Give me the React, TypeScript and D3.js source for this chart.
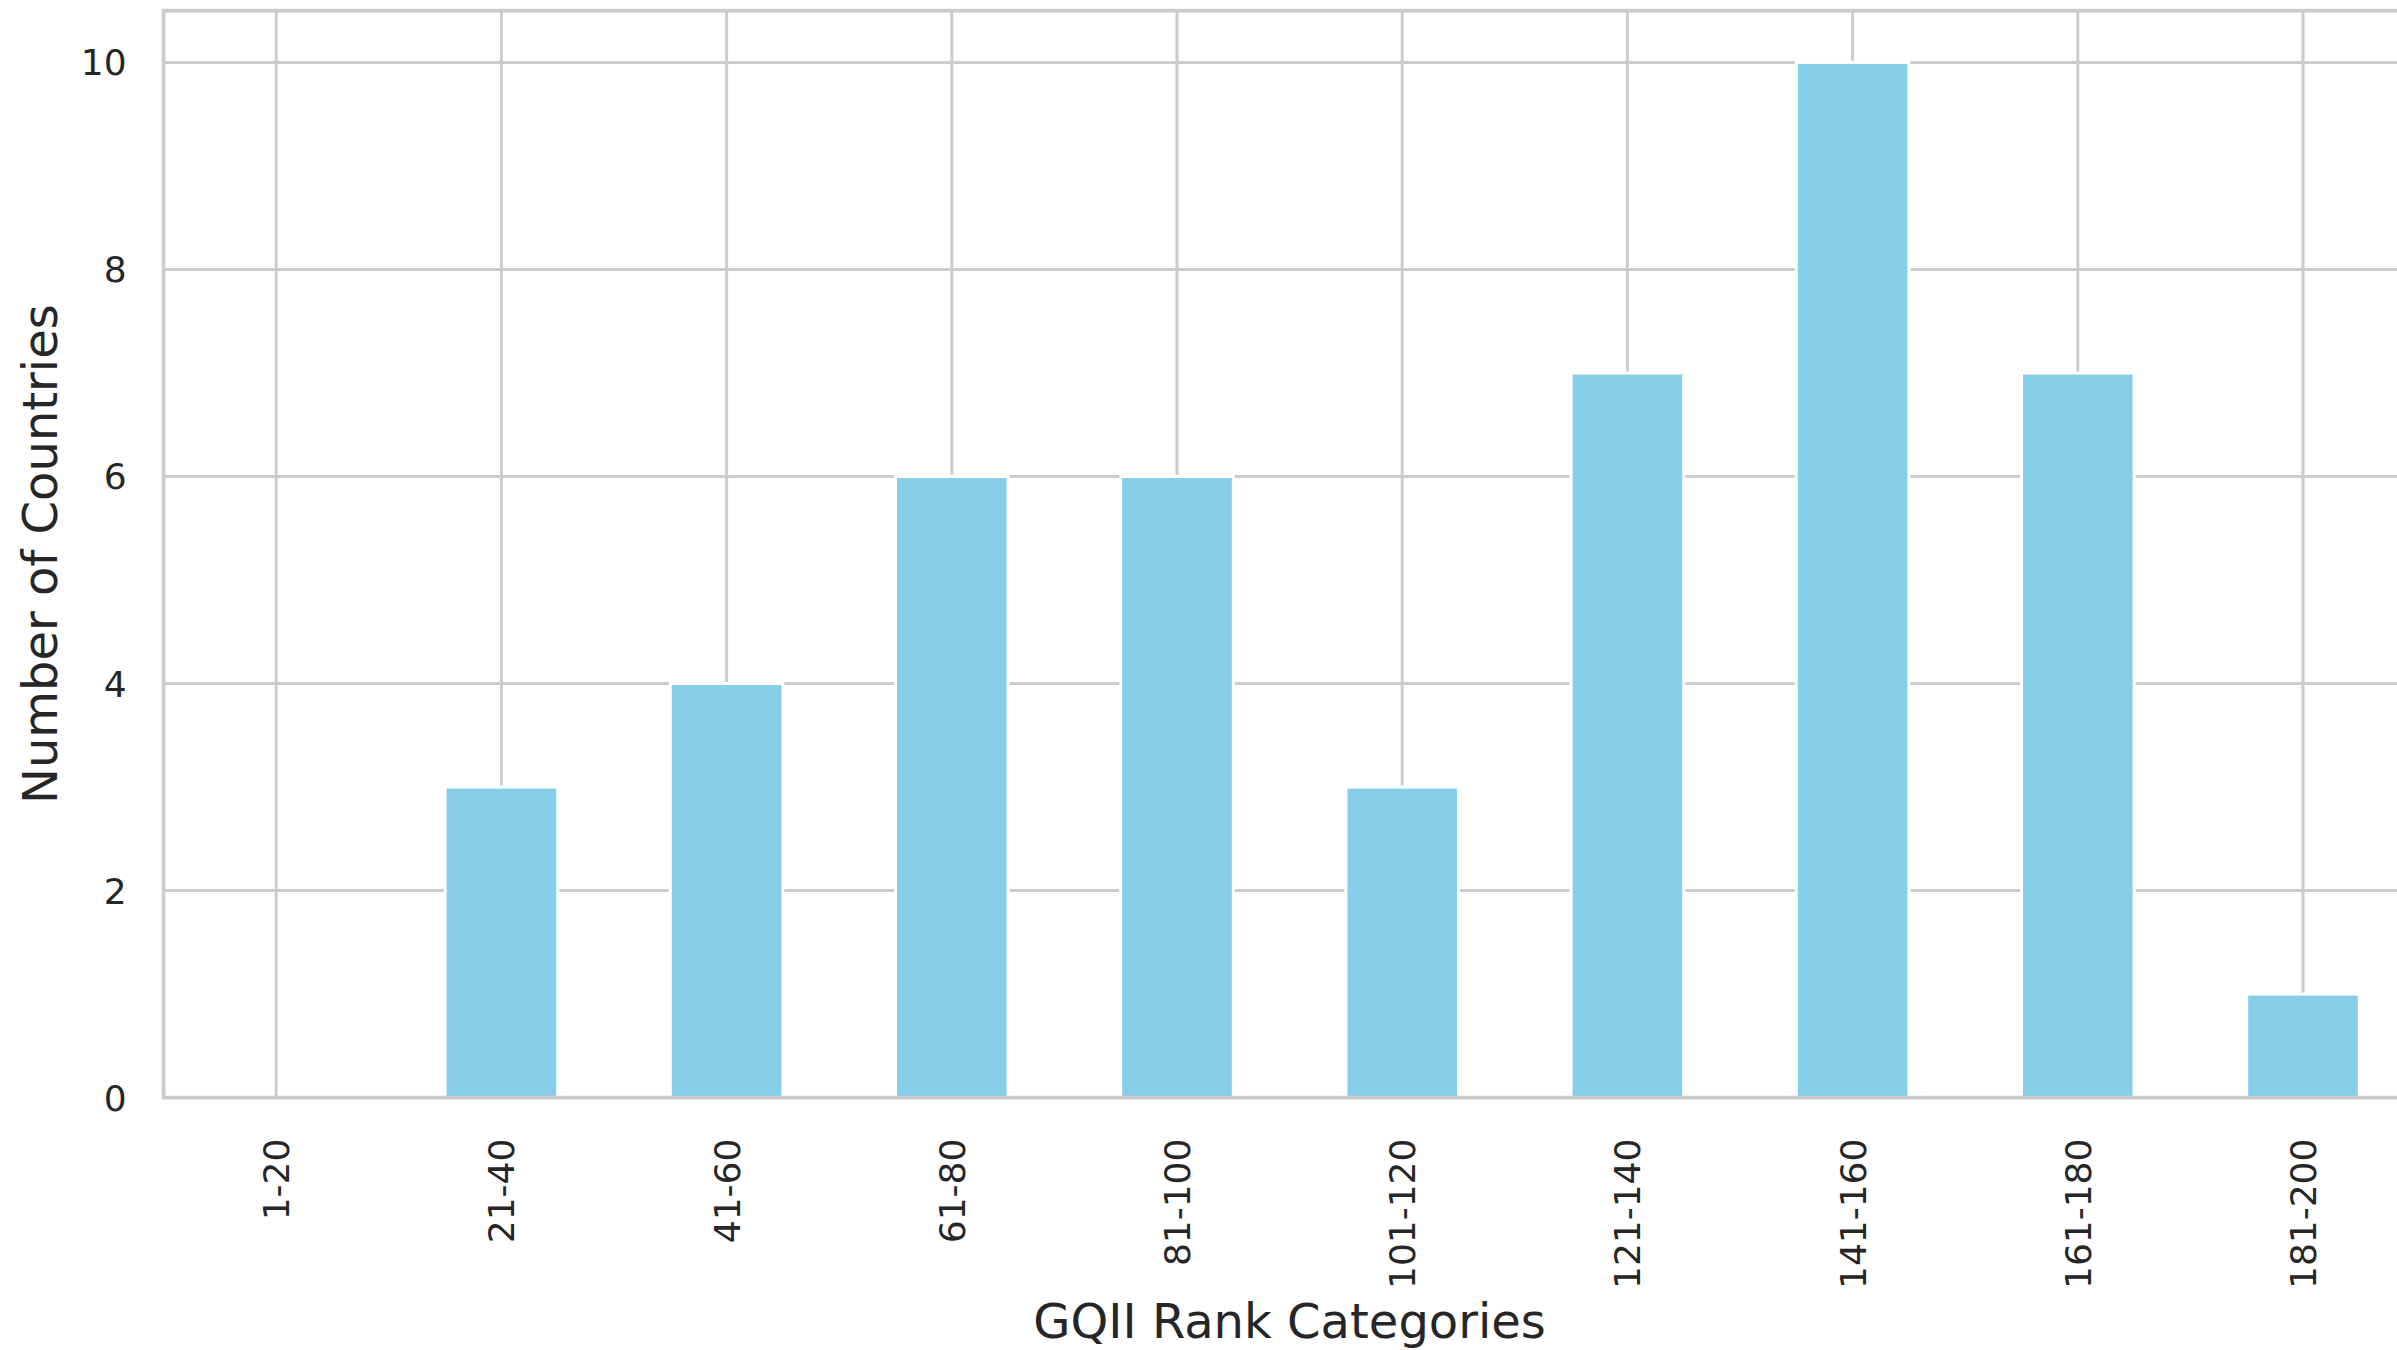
import React, { useEffect, useRef } from "react";
import * as d3 from "d3";

const categories = [
  "1-20",
  "21-40",
  "41-60",
  "61-80",
  "81-100",
  "101-120",
  "121-140",
  "141-160",
  "161-180",
  "181-200",
];
const counts = [0, 3, 4, 6, 6, 3, 7, 10, 7, 1];
const yTicks = [0, 2, 4, 6, 8, 10];

const W = 2397;
const H = 1350;

const App: React.FC = () => {
  const svgRef = useRef<SVGSVGElement | null>(null);

  useEffect(() => {
    if (!svgRef.current) return;
    const svg = d3.select(svgRef.current);
    svg.selectAll("*").remove();

    // axes box (right edge falls just past the picture, like the source crop)
    const left = 163.6;
    const right = 2415.6;
    const top = 10.7;
    const bottom = 1097.6;

    const x = d3
      .scaleBand<string>()
      .domain(categories)
      .range([left, right])
      .paddingInner(0.5)
      .paddingOuter(0.25);

    const y = d3.scaleLinear().domain([0, 10.5]).range([bottom, top]);

    const grid = "#cccccc";
    const ink = "#262626";
    const font = "'DejaVu Sans', sans-serif";

    svg
      .append("rect")
      .attr("width", W)
      .attr("height", H)
      .attr("fill", "white");

    // gridlines
    const g = svg.append("g");
    g.selectAll("line.h")
      .data(yTicks)
      .join("line")
      .attr("x1", left)
      .attr("x2", right)
      .attr("y1", (d) => y(d))
      .attr("y2", (d) => y(d))
      .attr("stroke", grid)
      .attr("stroke-width", 3);

    g.selectAll("line.v")
      .data(categories)
      .join("line")
      .attr("x1", (d) => x(d)! + x.bandwidth() / 2)
      .attr("x2", (d) => x(d)! + x.bandwidth() / 2)
      .attr("y1", top)
      .attr("y2", bottom)
      .attr("stroke", grid)
      .attr("stroke-width", 3);

    // bars
    svg
      .append("g")
      .selectAll("rect")
      .data(counts)
      .join("rect")
      .attr("x", (_, i) => x(categories[i])!)
      .attr("width", x.bandwidth())
      .attr("y", (d) => y(d))
      .attr("height", (d) => bottom - y(d))
      .attr("fill", "#87CEEB")
      .attr("stroke", "white")
      .attr("stroke-width", (d) => (d > 0 ? 3 : 0));

    // spines
    svg
      .append("rect")
      .attr("x", left)
      .attr("y", top)
      .attr("width", right - left)
      .attr("height", bottom - top)
      .attr("fill", "none")
      .attr("stroke", grid)
      .attr("stroke-width", 3.75);

    // y tick labels
    svg
      .append("g")
      .selectAll("text")
      .data(yTicks)
      .join("text")
      .attr("x", left - 37)
      .attr("y", (d) => y(d))
      .attr("dy", "0.36em")
      .attr("text-anchor", "end")
      .attr("font-family", font)
      .attr("font-size", 36)
      .attr("fill", ink)
      .text((d) => d);

    // x tick labels, rotated
    svg
      .append("g")
      .selectAll("text")
      .data(categories)
      .join("text")
      .attr(
        "transform",
        (d) => `translate(${x(d)! + x.bandwidth() / 2},${bottom + 41}) rotate(-90)`
      )
      .attr("dy", "0.36em")
      .attr("text-anchor", "end")
      .attr("font-family", font)
      .attr("font-size", 36)
      .attr("fill", ink)
      .text((d) => d);

    // axis labels
    svg
      .append("text")
      .attr("x", (left + right) / 2)
      .attr("y", 1338)
      .attr("text-anchor", "middle")
      .attr("font-family", font)
      .attr("font-size", 48)
      .attr("fill", ink)
      .text("GQII Rank Categories");

    svg
      .append("text")
      .attr("transform", `translate(57,${(top + bottom) / 2}) rotate(-90)`)
      .attr("text-anchor", "middle")
      .attr("font-family", font)
      .attr("font-size", 48)
      .attr("fill", ink)
      .text("Number of Countries");
  }, []);

  return (
    <svg
      ref={svgRef}
      width={W}
      height={H}
      style={{ position: "absolute", left: 0, top: 0 }}
    ></svg>
  );
};

export default App;
